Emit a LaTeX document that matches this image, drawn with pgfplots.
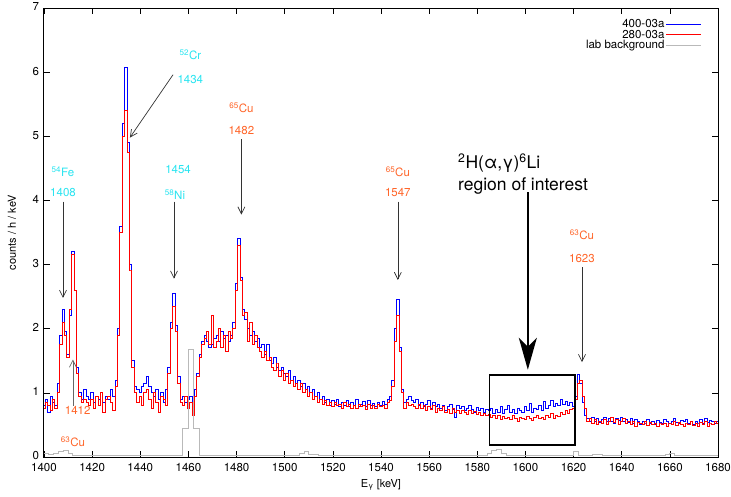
\documentclass[border=0pt]{standalone}
\usepackage{fontspec}
\setmainfont{TeX Gyre Heros}
\usepackage{pgfplots}
\pgfplotsset{compat=1.18}
\usepackage{pgfplotstable}
\usetikzlibrary{arrows.meta}
\definecolor{cyanl}{RGB}{40,228,240}
\definecolor{oran}{RGB}{255,100,40}
\definecolor{bgray}{RGB}{185,185,185}

\pgfplotstableread{
E B R
1400 0.80 0.75
1401 0.90 0.85
1402 0.70 0.80
1403 0.95 0.72
1404 0.85 0.90
1405 0.80 0.75
1406 1.15 1.00
1407 1.90 1.75
1408 2.30 2.10
1409 1.95 1.90
1410 1.60 1.55
1411 2.20 2.30
1412 3.20 3.15
1413 2.60 2.60
1414 1.40 1.30
1415 1.00 0.95
1416 0.90 0.85
1417 1.05 0.90
1418 0.95 0.85
1419 0.90 0.80
1420 1.00 0.90
1421 0.85 0.75
1422 0.95 0.95
1423 0.90 0.80
1424 1.00 1.00
1425 0.85 0.70
1426 0.95 0.90
1427 0.90 0.95
1428 1.05 0.85
1429 0.95 0.72
1430 1.20 1.10
1431 2.00 1.90
1432 3.60 3.50
1433 5.20 5.00
1434 6.07 5.40
1435 4.90 4.75
1436 3.00 2.90
1437 1.50 1.40
1438 1.10 1.00
1439 1.05 0.85
1440 1.00 0.95
1441 1.10 0.80
1442 1.15 1.00
1443 1.25 1.05
1444 1.10 0.90
1445 1.00 0.75
1446 0.95 1.00
1447 1.05 0.85
1448 0.90 0.70
1449 1.00 0.95
1450 0.85 0.90
1451 1.05 0.80
1452 1.40 1.30
1453 2.10 2.00
1454 2.55 2.35
1455 2.05 1.95
1456 1.25 1.15
1457 0.90 0.85
1458 0.95 0.80
1459 0.85 0.95
1460 0.90 0.75
1461 0.95 0.85
1462 0.80 0.65
1463 1.05 0.95
1464 1.30 1.25
1465 1.60 1.55
1466 1.80 1.75
1467 1.90 1.85
1468 1.80 1.95
1469 1.70 1.75
1470 1.75 2.20
1471 1.85 1.70
1472 1.90 1.80
1473 1.80 2.00
1474 1.95 1.70
1475 1.85 1.90
1476 1.90 1.65
1477 1.80 1.95
1478 1.90 1.85
1479 2.10 2.00
1480 2.70 2.60
1481 3.40 3.30
1482 2.80 2.75
1483 2.30 2.20
1484 2.15 2.25
1485 2.00 1.80
1486 1.90 2.10
1487 1.95 1.75
1488 1.80 1.90
1489 1.85 1.70
1490 1.70 1.65
1491 1.75 1.55
1492 1.60 1.65
1493 1.75 1.50
1494 1.50 1.55
1495 1.45 1.40
1496 1.55 1.35
1497 1.40 1.45
1498 1.35 1.25
1499 1.40 1.35
1500 1.30 1.20
1501 1.25 1.30
1502 1.35 1.15
1503 1.20 1.20
1504 1.25 1.10
1505 1.15 1.15
1506 1.20 1.05
1507 1.10 1.15
1508 1.15 1.00
1509 1.05 1.05
1510 1.10 0.95
1511 1.00 1.00
1512 1.05 0.90
1513 0.95 0.95
1514 1.00 0.85
1515 0.90 0.90
1516 0.95 0.82
1517 0.85 0.88
1518 0.90 0.80
1519 0.80 0.85
1520 0.88 0.78
1521 0.82 0.85
1522 0.90 0.80
1523 0.78 0.82
1524 0.85 0.75
1525 0.80 0.85
1526 0.88 0.78
1527 0.78 0.82
1528 0.85 0.76
1529 0.80 0.80
1530 0.90 0.75
1531 0.78 0.82
1532 0.82 0.78
1533 0.86 0.80
1534 0.78 0.74
1535 0.88 0.82
1536 0.80 0.76
1537 0.84 0.80
1538 0.78 0.75
1539 0.85 0.82
1540 0.80 0.78
1541 0.86 0.80
1542 0.82 0.76
1543 0.90 0.85
1544 0.95 0.88
1545 1.20 1.10
1546 2.00 1.80
1547 2.45 2.20
1548 1.70 1.65
1549 1.05 1.00
1550 0.85 0.75
1551 0.90 0.85
1552 0.95 0.80
1553 0.88 0.82
1554 0.85 0.78
1555 0.90 0.75
1556 0.80 0.82
1557 0.85 0.76
1558 0.78 0.80
1559 0.82 0.72
1560 0.88 0.78
1561 0.76 0.74
1562 0.85 0.80
1563 0.78 0.70
1564 0.82 0.76
1565 0.75 0.72
1566 0.80 0.78
1567 0.72 0.70
1568 0.78 0.74
1569 0.82 0.68
1570 0.74 0.75
1571 0.62 0.70
1572 0.80 0.72
1573 0.75 0.68
1574 0.78 0.73
1575 0.72 0.70
1576 0.76 0.66
1577 0.80 0.72
1578 0.74 0.68
1579 0.70 0.71
1580 0.77 0.66
1581 0.72 0.70
1582 0.75 0.65
1583 0.70 0.68
1584 0.74 0.64
1585 0.72 0.66
1586 0.76 0.62
1587 0.68 0.65
1588 0.74 0.60
1589 0.70 0.64
1590 0.78 0.58
1591 0.68 0.63
1592 0.74 0.60
1593 0.80 0.62
1594 0.70 0.58
1595 0.74 0.64
1596 0.68 0.60
1597 0.76 0.55
1598 0.72 0.62
1599 0.70 0.60
1600 0.78 0.58
1601 0.72 0.63
1602 0.84 0.60
1603 0.70 0.57
1604 0.76 0.62
1605 0.74 0.64
1606 0.80 0.60
1607 0.72 0.62
1608 0.86 0.58
1609 0.76 0.64
1610 0.80 0.62
1611 0.88 0.68
1612 0.78 0.60
1613 0.84 0.65
1614 0.80 0.63
1615 0.90 0.70
1616 0.82 0.66
1617 0.86 0.72
1618 0.80 0.68
1619 0.85 0.74
1620 0.78 0.75
1621 0.95 0.90
1622 1.28 1.15
1623 1.15 1.20
1624 0.85 0.95
1625 0.65 0.75
1626 0.60 0.55
1627 0.55 0.60
1628 0.62 0.52
1629 0.56 0.58
1630 0.60 0.50
1631 0.54 0.56
1632 0.58 0.52
1633 0.62 0.58
1634 0.55 0.50
1635 0.60 0.56
1636 0.56 0.62
1637 0.52 0.54
1638 0.60 0.58
1639 0.57 0.50
1640 0.62 0.56
1641 0.55 0.60
1642 0.58 0.52
1643 0.54 0.55
1644 0.60 0.50
1645 0.52 0.56
1646 0.58 0.48
1647 0.55 0.54
1648 0.50 0.52
1649 0.56 0.50
1650 0.53 0.55
1651 0.58 0.49
1652 0.52 0.54
1653 0.55 0.50
1654 0.50 0.52
1655 0.57 0.48
1656 0.54 0.53
1657 0.52 0.50
1658 0.58 0.52
1659 0.55 0.47
1660 0.52 0.53
1661 0.56 0.50
1662 0.60 0.55
1663 0.54 0.49
1664 0.52 0.54
1665 0.57 0.51
1666 0.55 0.48
1667 0.58 0.53
1668 0.52 0.50
1669 0.55 0.56
1670 0.50 0.49
1671 0.56 0.52
1672 0.53 0.47
1673 0.58 0.54
1674 0.52 0.50
1675 0.60 0.55
1676 0.54 0.48
1677 0.57 0.53
1678 0.55 0.50
1679 0.52 0.55
1680 0.55 0.52
}\spec

\pgfplotstableread{
E G
1400 0.05
1402 0.04
1404 0.05
1406 0.08
1408 0.11
1410 0.05
1412 0.03
1416 0.02
1420 0.03
1430 0.02
1440 0.03
1450 0.02
1457.7 0.45
1459.9 1.68
1462.1 0.45
1464.4 0.02
1480 0.03
1490 0.02
1500 0.03
1506 0.05
1508 0.09
1510 0.04
1514 0.03
1530 0.02
1540 0.03
1560 0.02
1580 0.03
1584 0.06
1586 0.10
1588 0.12
1590 0.06
1592 0.03
1600 0.02
1610 0.03
1618 0.03
1620 0.08
1622 0.03
1628 0.04
1632 0.03
1640 0.02
1650 0.03
1658 0.04
1660 0.06
1662 0.03
1670 0.02
1680 0.02
}\bkg

\begin{document}
\begin{tikzpicture}[font=\fontsize{11.5}{13}\selectfont,
  arr/.style={draw=black!80, line width=0.7pt, -{Straight Barb[length=7pt,width=7pt]}}]
\begin{axis}[at={(0,0)}, anchor=south west, scale only axis,
  width=674pt, height=449pt,
  xmin=1400, xmax=1680, ymin=0, ymax=7,
  xtick={1400,1420,...,1680}, ytick={0,1,...,7},
  tick align=inside, major tick length=6pt,
  axis line style={line width=1pt},
  every tick/.style={line width=0.6pt, black},
  /pgf/number format/assume math mode=true,
  /pgf/number format/1000 sep={},
  ticklabel style={font=\fontsize{11.5}{13}\selectfont},
  xticklabel style={yshift=-2.5pt},
  yticklabel style={xshift=-1.5pt, yshift=1pt},
  xlabel={E\textsubscript{γ} [keV]},
  ylabel={counts / h / keV},
  xlabel style={at={(axis description cs:0.5,-0.062)}, anchor=center, font=\fontsize{11}{13}\selectfont},
  ylabel style={at={(axis description cs:-0.0475,0.5)}, anchor=center, font=\fontsize{11}{13}\selectfont},
  clip mode=individual,
  legend plot pos=right,
  legend cell align=right,
  legend style={at={(axis description cs:0.981,0.982)}, anchor=north east,
    draw=none, fill=none, font=\fontsize{11.5}{12}\selectfont,
    row sep=-2.5pt, nodes={inner sep=1.5pt}},
  legend image code/.code={\draw[#1] (0pt,0pt) -- (35pt,0pt);},
]
\addplot[blue, line width=1pt, const plot mark mid] table[x=E,y=B] {\spec};
\addlegendentry{400-03a}
\addplot[red, line width=1pt, const plot mark mid] table[x=E,y=R] {\spec};
\addlegendentry{280-03a}
\addplot[bgray, line width=0.8pt, const plot] table[x=E,y=G] {\bkg};
\addlegendentry{lab background}

% annotations
\node[cyanl] at (axis cs:1407.9,4.45) {\textsuperscript{54}Fe};
\node[cyanl] at (axis cs:1407.9,4.12) {1408};
\draw[arr] (axis cs:1407.9,3.98) -- (axis cs:1407.9,2.48);

\node[cyanl] at (axis cs:1460.8,6.27) {\textsuperscript{52}Cr};
\node[cyanl] at (axis cs:1460.8,5.88) {1434};
\draw[arr] (axis cs:1453.6,5.96) -- (axis cs:1435.7,4.98);

\node[cyanl] at (axis cs:1455.7,4.48) {1454};
\node[cyanl] at (axis cs:1454.4,4.09) {\textsuperscript{58}Ni};
\draw[arr] (axis cs:1454,3.98) -- (axis cs:1454,2.78);

\node[oran] at (axis cs:1482,5.44) {\textsuperscript{65}Cu};
\node[oran] at (axis cs:1482,5.09) {1482};
\draw[arr] (axis cs:1482,4.95) -- (axis cs:1482,3.78);

\node[oran] at (axis cs:1547,4.45) {\textsuperscript{65}Cu};
\node[oran] at (axis cs:1547,4.12) {1547};
\draw[arr] (axis cs:1547,3.98) -- (axis cs:1547,2.76);

\node[oran] at (axis cs:1623.5,3.46) {\textsuperscript{63}Cu};
\node[oran] at (axis cs:1623.5,3.10) {1623};
\draw[arr] (axis cs:1623.5,2.96) -- (axis cs:1623.5,1.48);

\node[oran] at (axis cs:1414,0.72) {1412};
\node[oran] at (axis cs:1412,0.24) {\textsuperscript{63}Cu};
\draw[arr, draw=black!60] (axis cs:1412,0.80) -- (axis cs:1412,1.52);

\node[anchor=base west, inner sep=0pt, font=\fontsize{17.5}{20}\selectfont] at (axis cs:1572,4.50) {\textsuperscript{2}H(α,γ)\textsuperscript{6}Li};
\node[anchor=base west, inner sep=0pt, font=\fontsize{17.5}{20}\selectfont] at (axis cs:1572,4.16) {region of interest};
\draw[line width=2.5pt, -{Stealth[length=32pt,width=18pt,inset=9pt]}] (axis cs:1601,4.13) -- (axis cs:1601,1.36);
\draw[line width=1.6pt] (axis cs:1585,0.19) rectangle (axis cs:1620.5,1.28);
\end{axis}
\pgfresetboundingbox
\path (-44pt,-39pt) rectangle (687pt,457pt);
\end{tikzpicture}
\end{document}
